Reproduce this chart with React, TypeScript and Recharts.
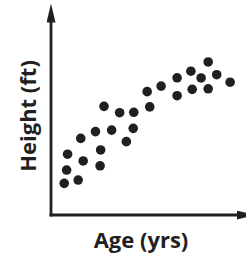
import { ScatterChart, Scatter, XAxis, YAxis } from 'recharts';

// arbitrary units (no ticks on the original), 0-100 on both axes
const ages = [7.1, 8.4, 8.9, 14.6, 17.3, 16.0, 26.4, 26.7, 23.9, 28.5, 32.6, 36.9, 40.5, 44.2, 44.5, 53.1, 51.7, 59.2, 67.8, 67.8, 75.2, 75.9, 80.7, 84.5, 84.5, 89.1, 96.3];
const heights = [16.4, 23.3, 31.5, 18.1, 28.0, 39.7, 25.5, 33.7, 43.2, 56.3, 44.0, 53.0, 38.0, 44.9, 53.2, 56.0, 63.9, 66.8, 71.1, 61.8, 74.5, 65.1, 71.0, 79.3, 65.4, 72.7, 68.8];

const xLabel = 'Age (yrs)';
const yLabel = 'Height (ft)';

const ink = '#231f20';
const font = '"Open Sans", sans-serif';

const points = ages.map((age, i) => ({ age, height: heights[i] }));

const Dot = (props: any) => <circle cx={props.cx} cy={props.cy} r={4.8} fill={ink} />;

export default function App() {
  return (
    <div style={{ position: 'absolute', left: 0, top: 0, background: '#fff' }}>
      <ScatterChart width={246} height={256} margin={{ top: 22, right: 9, bottom: 0, left: 0 }}>
        <defs>
          <marker
            id="arrow"
            markerUnits="userSpaceOnUse"
            markerWidth={19}
            markerHeight={9}
            viewBox="0 0 19 9"
            refX={0.5}
            refY={4.5}
            orient="auto-start-reverse"
          >
            <path d="M0,0 L19,4.5 L0,9 Z" fill={ink} />
          </marker>
        </defs>
        <XAxis
          type="number"
          dataKey="age"
          domain={[0, 100]}
          height={41}
          tick={false}
          tickLine={false}
          axisLine={{ stroke: ink, strokeWidth: 2.8, strokeLinecap: 'square', markerEnd: 'url(#arrow)' }}
          label={(p: any) => (
            <text
              x={141}
              y={248}
              textAnchor="middle"
              fontFamily={font}
              fontWeight={700}
              fontSize={22}
              fill={ink}
            >
              {xLabel}
            </text>
          )}
        />
        <YAxis
          type="number"
          dataKey="height"
          domain={[0, 100]}
          width={51}
          tick={false}
          tickLine={false}
          axisLine={{ stroke: ink, strokeWidth: 2.8, strokeLinecap: 'square', markerStart: 'url(#arrow)' }}
          label={() => (
            <text
              x={36}
              y={116}
              transform="rotate(-90 36 116)"
              textAnchor="middle"
              fontFamily={font}
              fontWeight={700}
              fontSize={22}
              fill={ink}
            >
              {yLabel}
            </text>
          )}
        />
        <Scatter data={points} shape={Dot} isAnimationActive={false} />
      </ScatterChart>
    </div>
  );
}
